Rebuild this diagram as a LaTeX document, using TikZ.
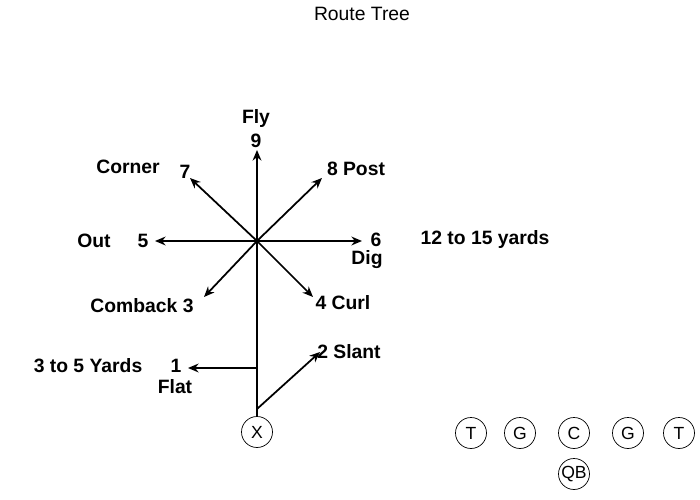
\documentclass[tikz,border=0pt]{standalone}
\usepackage{fontspec}
\setmainfont{Liberation Sans}
\usetikzlibrary{arrows.meta}
\begin{document}
\begin{tikzpicture}[x=0.02cm,y=-0.02cm,
  lab/.style={font=\bfseries\fontsize{11}{12}\selectfont,inner sep=0pt},
  rt/.style={line width=1pt,-{Stealth[length=6pt,width=5pt]}},
  pl/.style={circle,draw,minimum size=0.62cm,inner sep=0pt,font=\fontsize{10}{11}\selectfont}]
\useasboundingbox (0,0) rectangle (700,500);
\node[font=\fontsize{11}{12}\selectfont] (title) at (362,14) {Route Tree};
\coordinate (c) at (257,241);
\node[pl] (x) at (257,432) {X};
\coordinate (top) at (257,150);
\coordinate (e7) at (190,178);
\coordinate (e8) at (322,178);
\coordinate (e5) at (155,241);
\coordinate (e6) at (362,241);
\coordinate (e3) at (204,297);
\coordinate (e4) at (313,297);
\coordinate (b1) at (257,368);
\coordinate (e1) at (188,368);
\coordinate (b2) at (257,409);
\coordinate (e2) at (320,352);
\draw[rt] (x) -- (top);
\draw[rt] (c) -- (e7);
\draw[rt] (c) -- (e8);
\draw[rt] (c) -- (e5);
\draw[rt] (c) -- (e6);
\draw[rt] (c) -- (e3);
\draw[rt] (c) -- (e4);
\draw[rt] (b1) -- (e1);
\draw[rt] (b2) -- (e2);
\node[lab] (fly) at (256,119) {Fly};
\node[lab] (n9) at (256,141) {9};
\node[lab] (n7) at (185,172) {7};
\node[lab] (corner) at (128,167) {Corner};
\node[lab] (n8) at (356,169) {8 Post};
\node[lab] (n5) at (143,241) {5};
\node[lab] (out) at (94,241) {Out};
\node[lab] (n6) at (376,240) {6};
\node[lab] (dig) at (367,260) {Dig};
\node[lab] (yards) at (485,240) {12 to 15 yards};
\node[lab] (n3) at (142,306) {Comback 3};
\node[lab] (n4) at (343,303) {4 Curl};
\node[lab] (n1) at (176,366) {1};
\node[lab] (y35) at (88,366) {3 to 5 Yards};
\node[lab] (flat) at (175,387) {Flat};
\node[lab] (n2) at (349,352) {2 Slant};
\node[pl] (t1) at (471,433) {T};
\node[pl] (g1) at (520,433) {G};
\node[pl] (cc) at (574,433) {C};
\node[pl] (g2) at (628,433) {G};
\node[pl] (t2) at (679,433) {T};
\node[pl] (qb) at (574,474) {QB};
\end{tikzpicture}
\end{document}
